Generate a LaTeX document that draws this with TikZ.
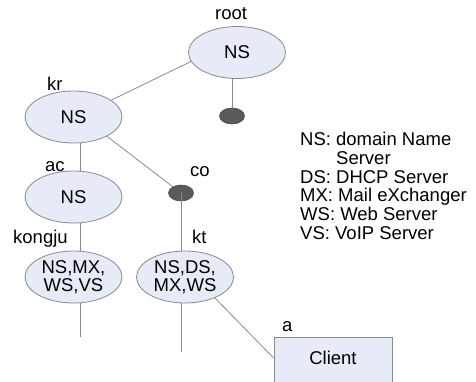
\documentclass[tikz,border=0pt]{standalone}
\usepackage{fontspec}
\setmainfont{Liberation Sans}
\usetikzlibrary{shapes.geometric,calc}
\definecolor{efill}{HTML}{E6EBF7}
\definecolor{edraw}{HTML}{8A8A8A}
\definecolor{dotfill}{HTML}{5A5A5A}
\begin{document}
\begin{tikzpicture}[x=1pt,y=-1pt,
  every node/.style={font=\fontsize{18.5}{18}\selectfont},
  srv/.style={ellipse,draw=edraw,fill=efill,line width=0.8pt,minimum width=97pt,minimum height=52pt,inner sep=0pt,align=center},
  hub/.style={ellipse,draw=black!70,fill=dotfill,line width=0.6pt,minimum width=25pt,minimum height=16pt,inner sep=0pt},
  host/.style={rectangle,draw=edraw,fill=efill,line width=0.8pt,minimum width=118pt,minimum height=56pt,inner sep=0pt},
  conn/.style={draw=edraw,line width=0.8pt},
  lbl/.style={inner sep=0pt,anchor=base west}]
\useasboundingbox (0,0) rectangle (476,381);
\clip (0,0) rectangle (476,381);
\fill[white] (0,0) rectangle (476,381);
% nodes
\node[srv] (root) at (237,52.5) {NS};
\node[hub] (rootdot) at (232,116) {};
\node[srv] (kr) at (73.5,117) {NS};
\node[srv] (ac) at (73.5,197) {NS};
\node[hub] (co) at (181,193) {};
\node[srv] (kongju) at (73.5,277) {NS,MX,\\WS,VS};
\node[srv] (kt) at (185,277) {NS,DS,\\MX,WS};
\node[host] (client) at (333,365) {};
\node (clienttext) at (333,358) {Client};
% free ends
\coordinate (kongjuend) at (80,337);
\coordinate (ktend) at (181,352);
% connectors
\draw[conn] (root.191) -- (kr.24);
\draw[conn] (rootdot.north) -- (rootdot.north |- root.south);
\draw[conn] ($(kr.south)+(6.5,0)$) -- ($(ac.north)+(6.5,0)$);
\draw[conn] (kr.-30) -- (co);
\draw[conn] (co.center) -- (co.center |- kt.north);
\draw[conn] ($(ac.south)+(6.5,0)$) -- ($(kongju.north)+(6.5,0)$);
\draw[conn] (kongjuend |- kongju.south) -- (kongjuend);
\draw[conn] (ktend |- kt.south) -- (ktend);
\draw[conn] (kt.-35) -- ($(client.west)+(0,-7)$);
% labels
\node[lbl] (lroot) at (215,19.5) {root};
\node[lbl] (lkr) at (47,90) {kr};
\node[lbl] (lac) at (45,171.5) {ac};
\node[lbl] (lco) at (190,176.5) {co};
\node[lbl] (lkongju) at (13,243) {kongju};
\node[lbl] (lkt) at (192,243) {kt};
\node[lbl] (la) at (282,331) {a};
% legend
\node[lbl] (leg1) at (300,145) {NS: domain Name};
\node[lbl] (leg2) at (300,164) {\phantom{NS: }Server};
\node[lbl] (leg3) at (300,183) {DS: DHCP Server};
\node[lbl] (leg4) at (300,201.5) {MX: Mail eXchanger};
\node[lbl] (leg5) at (300,220) {WS: Web Server};
\node[lbl] (leg6) at (300,239) {VS: VoIP Server};
\end{tikzpicture}
\end{document}
